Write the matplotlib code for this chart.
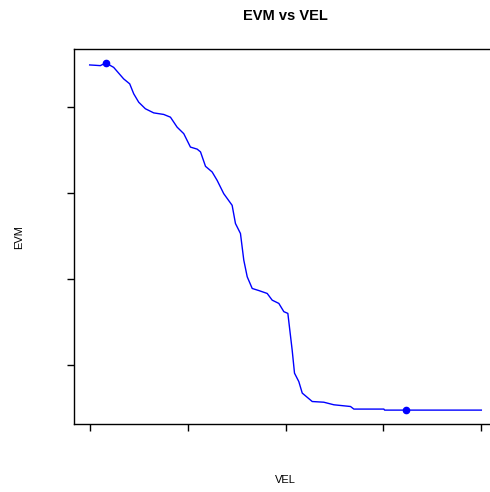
import matplotlib
matplotlib.use("Agg")
import matplotlib.pyplot as plt

# velocity sweep and measured EVM along it
vel = [0.0, 0.58, 1.09, 1.64, 2.45, 3.47, 4.09, 4.50, 5.01, 5.69, 6.54, 7.56, 8.25,
       8.93, 9.61, 10.29, 10.98, 11.32, 11.83, 12.51, 13.02, 13.69, 14.55, 14.89,
       15.40, 15.74, 16.09, 16.60, 17.27, 18.13, 18.64, 19.32, 19.83, 20.24, 20.44,
       20.68, 20.92, 21.36, 21.71, 22.73, 23.91, 24.94, 26.64, 26.98, 30.05, 30.12,
       32.26, 40.0]
evm = [27.46, 27.44, 27.42, 27.58, 27.32, 26.65, 26.36, 25.78, 25.29, 24.91, 24.67,
       24.58, 24.42, 23.84, 23.46, 22.68, 22.56, 22.40, 21.56, 21.23, 20.74, 19.97,
       19.29, 18.23, 17.65, 16.10, 15.13, 14.45, 14.33, 14.16, 13.77, 13.58, 13.10,
       13.00, 12.03, 10.87, 9.52, 9.03, 8.36, 7.87, 7.83, 7.68, 7.58, 7.43, 7.43,
       7.37, 7.37, 7.37]
# highlighted points: peak and where the floor is reached
mark_vel = [1.64, 32.26]
mark_evm = [27.58, 7.37]

x_ticks = [0, 10, 20, 30, 40]
y_ticks = [10, 15, 20, 25]

plt.rcParams["font.family"] = ["Liberation Sans", "DejaVu Sans"]

fig = plt.figure(figsize=(4.9, 4.92), dpi=100)
# plot box runs past the right edge of the canvas
ax = fig.add_axes([74 / 490, 1 - 424 / 492, (497 - 74) / 490, (424 - 49) / 492])

ax.plot(vel, evm, color="blue", lw=1.0)
ax.plot(mark_vel, mark_evm, "o", color="blue", ms=4.5, mec="blue")

ax.margins(x=0.04, y=0.04)
ax.set_xticks(x_ticks)
ax.set_yticks(y_ticks)
ax.tick_params(direction="out", length=5, width=1, labelbottom=False, labelleft=False)
for s in ax.spines.values():
    s.set_linewidth(1.0)
    s.set_color("black")
ax.spines["right"].set_visible(False)

fig.text(285 / 490, 1 - 16 / 492, "EVM vs VEL", ha="center", va="center",
         fontsize=10.5, fontweight="bold")
fig.text(285 / 490, 1 - 480 / 492, "VEL", ha="center", va="center", fontsize=8)
fig.text(19 / 490, 1 - 237 / 492, "EVM", ha="center", va="center", fontsize=8,
         rotation=90)

fig.savefig("out.png", dpi=100)
